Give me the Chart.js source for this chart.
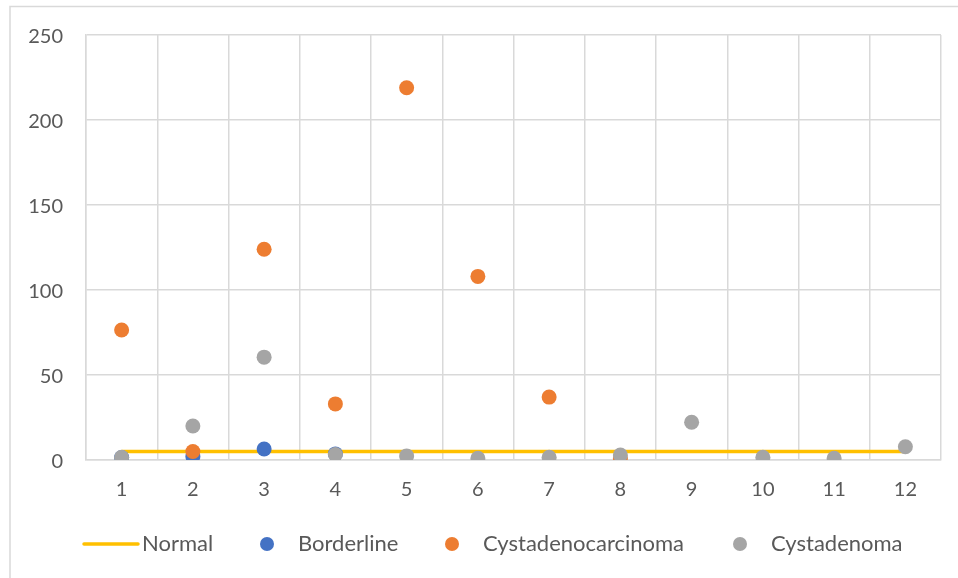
<!DOCTYPE html>
<html>
<head>
<meta charset="utf-8">
<script src="https://cdn.jsdelivr.net/npm/chart.js@4/dist/chart.umd.min.js"></script>
<style>
  html, body { margin: 0; padding: 0; background: #ffffff; }
  canvas { display: block; }
</style>
</head>
<body>
<canvas id="chart" width="958" height="578"></canvas>
<script>
// Sample numbers along the x axis
const categories = ['1', '2', '3', '4', '5', '6', '7', '8', '9', '10', '11', '12'];

// Reference level for normal tissue
const normal = [5, 5, 5, 5, 5, 5, 5, 5, 5, 5, 5, 5];

// Measured values per tumour type (null where no sample)
const borderline = [1.5, 2, 6.5, 3.6, null, null, null, null, null, null, null, null];
const cystadenocarcinoma = [76.5, 5, 124, 33, 219, 108, 37, 1.2, null, null, null, null];
const cystadenoma = [1.6, 20, 60.5, 3.2, 2.4, 1.0, 1.6, 2.9, 22.2, 1.6, 1.0, 7.8];

// Value axis ticks
const yTicks = [0, 50, 100, 150, 200, 250];

const FONT = 'Lato, "Liberation Sans", sans-serif';
const TEXT = '#595959';
const GRID = '#d9d9d9';

// Outer frame and white background
const framePlugin = {
  id: 'frame',
  beforeDraw(chart) {
    const ctx = chart.ctx;
    ctx.save();
    ctx.fillStyle = '#ffffff';
    ctx.fillRect(0, 0, chart.width, chart.height);
    ctx.strokeStyle = GRID;
    ctx.lineWidth = 1.5;
    ctx.beginPath();
    ctx.moveTo(10, chart.height);
    ctx.lineTo(10, 6.5);
    ctx.lineTo(chart.width, 6.5);
    ctx.stroke();
    ctx.restore();
  }
};

// Legend row below the plot: line marker for the reference series, dots for the rest
const legendPlugin = {
  id: 'rowLegend',
  afterDraw(chart) {
    const ctx = chart.ctx;
    const y = 544;
    const items = [
      { ds: 0, marker: 'line', x0: 84, x1: 138, tx: 142 },
      { ds: 1, marker: 'dot', cx: 267, tx: 298 },
      { ds: 2, marker: 'dot', cx: 452, tx: 483 },
      { ds: 3, marker: 'dot', cx: 740, tx: 771 }
    ];
    ctx.save();
    ctx.font = '22px ' + FONT;
    ctx.textBaseline = 'middle';
    ctx.textAlign = 'left';
    items.forEach(it => {
      const ds = chart.data.datasets[it.ds];
      if (it.marker === 'line') {
        ctx.strokeStyle = ds.borderColor;
        ctx.lineWidth = 3.5;
        ctx.lineCap = 'round';
        ctx.beginPath();
        ctx.moveTo(it.x0, y);
        ctx.lineTo(it.x1, y);
        ctx.stroke();
      } else {
        ctx.fillStyle = ds.pointBackgroundColor;
        ctx.beginPath();
        ctx.arc(it.cx, y, 7, 0, Math.PI * 2);
        ctx.fill();
      }
      ctx.fillStyle = TEXT;
      ctx.fillText(ds.label, it.tx, y);
    });
    ctx.restore();
  }
};

function dotSeries(label, data, color, order) {
  return {
    label: label,
    data: data,
    showLine: false,
    borderColor: color,
    backgroundColor: color,
    pointBackgroundColor: color,
    pointBorderWidth: 0,
    pointRadius: 7.5,
    pointHoverRadius: 7.5,
    order: order
  };
}

new Chart(document.getElementById('chart'), {
  type: 'line',
  data: {
    labels: categories,
    datasets: [
      {
        label: 'Normal',
        data: normal,
        borderColor: '#FFC000',
        backgroundColor: '#FFC000',
        borderWidth: 3.5,
        pointRadius: 0,
        pointHoverRadius: 0,
        fill: false,
        order: 4
      },
      dotSeries('Borderline', borderline, '#4472C4', 3),
      dotSeries('Cystadenocarcinoma', cystadenocarcinoma, '#ED7D31', 2),
      dotSeries('Cystadenoma', cystadenoma, '#A5A5A5', 1)
    ]
  },
  options: {
    responsive: false,
    animation: false,
    devicePixelRatio: 1,
    layout: { padding: { left: 0, right: 17, top: 35, bottom: 0 } },
    plugins: {
      legend: { display: false },
      tooltip: { enabled: false }
    },
    scales: {
      x: {
        type: 'category',
        offset: true,
        grid: { color: GRID, lineWidth: 1.5, offset: true, drawTicks: false },
        border: { color: GRID, width: 1.5 },
        ticks: { color: TEXT, font: { family: FONT, size: 20 }, padding: 18, maxRotation: 0, autoSkip: false },
        afterFit(scale) { scale.height = 118; }
      },
      y: {
        min: 0,
        max: 250,
        afterBuildTicks(scale) { scale.ticks = yTicks.map(v => ({ value: v })); },
        grid: { color: GRID, lineWidth: 1.5, drawTicks: false },
        border: { color: GRID, width: 1.5 },
        ticks: { color: TEXT, font: { family: FONT, size: 20 }, padding: 23, labelOffset: 2 },
        afterFit(scale) { scale.width = 86; }
      }
    }
  },
  plugins: [framePlugin, legendPlugin]
});
</script>
</body>
</html>
